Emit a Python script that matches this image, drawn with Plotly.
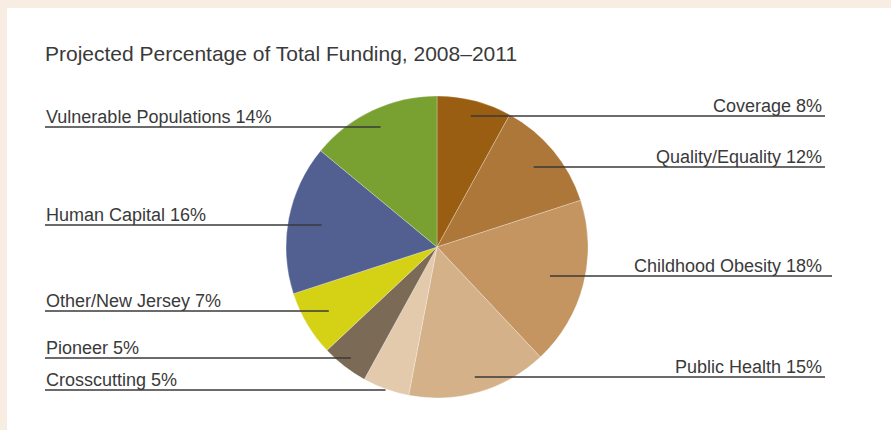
import math
import plotly.graph_objects as go

# ---- data ----
categories = ["Coverage", "Quality/Equality", "Childhood Obesity", "Public Health",
              "Crosscutting", "Pioneer", "Other/New Jersey", "Human Capital",
              "Vulnerable Populations"]
percentages = [8, 12, 18, 15, 5, 5, 7, 16, 14]
colors = ["#9A5E12", "#AE773A", "#C49561", "#D5B189", "#E3CAAD",
          "#7B6A55", "#D5D114", "#526091", "#79A131"]
title_text = "Projected Percentage of Total Funding, 2008\u20132011"

# ---- layout (pixels) ----
W, H = 891, 430
CX, CY, R = 437, 247, 151
# label side and y-position of the leader line (pixels from top)
label_side = ["right", "right", "right", "right", "left", "left", "left", "left", "left"]
line_y = [116, 167, 276, 377, 390, 358, 311, 225, 127]
LEFT_X = 45
RIGHT_TEXT_X = 823
RIGHT_LINE_X = 825
TEXT_COLOR = "#3a3a3a"
FONT = "Liberation Sans"

def px(x):
    return x / W

def py(y):
    return 1 - y / H

fig = go.Figure()
fig.add_trace(go.Pie(
    labels=categories,
    values=percentages,
    sort=False,
    direction="clockwise",
    rotation=0,
    marker=dict(colors=colors, line=dict(color="rgba(255,255,255,0.45)", width=0.6)),
    textinfo="none",
    hoverinfo="label+percent",
    showlegend=False,
    domain=dict(x=[px(CX - R), px(CX + R)], y=[py(CY + R), py(CY - R)]),
))

shapes = [
    dict(type="rect", xref="paper", yref="paper", x0=px(7), x1=1, y0=0, y1=py(8),
         fillcolor="white", line=dict(width=0), layer="below"),
]
annotations = [
    dict(text=title_text, x=px(44), y=py(66), xref="paper", yref="paper",
         xanchor="left", yanchor="bottom", showarrow=False, borderpad=0,
         font=dict(size=21, color=TEXT_COLOR, family=FONT))
]

total = sum(percentages)
cum = 0
for name, val, side, ly in zip(categories, percentages, label_side, line_y):
    mid = (cum + val / 2) / total * 2 * math.pi
    cum += val
    dy = CY - ly  # positive when above center
    # point on the slice's mid-angle ray at the line's height
    ex = CX + dy * math.tan(mid)
    label = f"{name} {val}%"
    if side == "right":
        shapes.append(dict(type="line", xref="paper", yref="paper",
                           x0=px(ex), x1=px(RIGHT_LINE_X + (7 if val == 18 else 0)),
                           y0=py(ly), y1=py(ly),
                           line=dict(color=TEXT_COLOR, width=1.3)))
        annotations.append(dict(text=label, x=px(RIGHT_TEXT_X), y=py(ly + 1),
                                xref="paper", yref="paper", xanchor="right",
                                yanchor="bottom", showarrow=False, borderpad=0,
                                font=dict(size=18, color=TEXT_COLOR, family=FONT)))
    else:
        shapes.append(dict(type="line", xref="paper", yref="paper",
                           x0=px(LEFT_X), x1=px(ex), y0=py(ly), y1=py(ly),
                           line=dict(color=TEXT_COLOR, width=1.3)))
        annotations.append(dict(text=label, x=px(LEFT_X), y=py(ly + 1),
                                xref="paper", yref="paper", xanchor="left",
                                yanchor="bottom", showarrow=False, borderpad=0,
                                font=dict(size=18, color=TEXT_COLOR, family=FONT)))

fig.update_layout(
    width=W, height=H,
    margin=dict(l=0, r=0, t=0, b=0),
    paper_bgcolor="#F7EDE3",
    plot_bgcolor="white",
    shapes=shapes,
    annotations=annotations,
)

fig.write_html("out.html", config={"displayModeBar": False},
               post_script="document.body.style.margin='0';document.body.style.overflow='hidden';")
